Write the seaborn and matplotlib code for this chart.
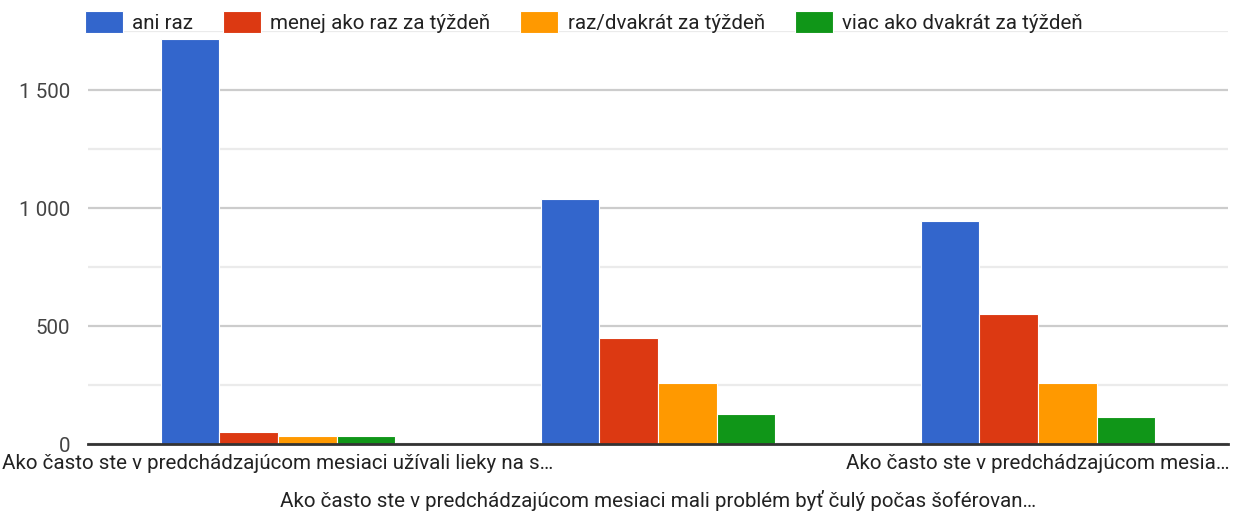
import matplotlib
matplotlib.use("Agg")
import matplotlib.pyplot as plt
from matplotlib.ticker import MultipleLocator, FuncFormatter, FixedLocator, FixedFormatter
from matplotlib.patches import Patch
import seaborn as sns
import pandas as pd

questions = [
    "Ako často ste v predchádzajúcom mesiaci užívali lieky na s…",
    "Ako často ste v predchádzajúcom mesiaci mali problém byť čulý počas šoférovan…",
    "Ako často ste v predchádzajúcom mesia…",
]
answers = ["ani raz", "menej ako raz za týždeň", "raz/dvakrát za týždeň", "viac ako dvakrát za týždeň"]
ani_raz = [1715, 1037, 946]
menej = [52, 449, 551]
raz_dvakrat = [34, 257, 257]
viac = [34, 126, 114]
colors = ["#3366cc", "#dc3912", "#ff9900", "#109618"]

rows = []
for series, name in zip([ani_raz, menej, raz_dvakrat, viac], answers):
    for q, v in zip(questions, series):
        rows.append({"question": q, "answer": name, "count": v})
df = pd.DataFrame(rows)

sns.set_theme(style="white")
plt.rcParams["font.family"] = ["Roboto", "DejaVu Sans"]
fs = 14.8

fig = plt.figure(figsize=(12.34, 5.2), dpi=100)
ax = fig.add_axes([88 / 1234, 76 / 520, (1228 - 88) / 1234, (444 - 31) / 520])

sns.barplot(data=df, x="question", y="count", hue="answer", order=questions,
            hue_order=answers, palette=colors, width=0.617, ax=ax,
            edgecolor="white", linewidth=0.8, saturation=1, legend=False, zorder=3)

ax.set_ylim(0, 1750)
ax.set_xlim(-0.5, 2.5)
ax.yaxis.set_major_locator(MultipleLocator(500))
ax.yaxis.set_minor_locator(MultipleLocator(250))
ax.yaxis.set_major_formatter(FuncFormatter(lambda v, p: f"{v:,.0f}".replace(",", " ")))
ax.grid(axis="y", which="major", color="#cccccc", linewidth=1.6, zorder=0)
ax.grid(axis="y", which="minor", color="#ebebeb", linewidth=1.6, zorder=0)
ax.set_axisbelow(True)
for s in ["top", "right", "left"]:
    ax.spines[s].set_visible(False)
ax.spines["bottom"].set_color("#333333")
ax.spines["bottom"].set_linewidth(2)
ax.spines["bottom"].set_zorder(5)
ax.tick_params(axis="both", which="both", length=0, labelsize=fs)
ax.tick_params(axis="y", pad=13, labelcolor="#444444")
ax.set_xlabel("")
ax.set_ylabel("")

# staggered category labels: first and third on row 1, second on row 2
ax.xaxis.set_major_locator(FixedLocator([0, 2]))
ax.xaxis.set_major_formatter(FixedFormatter([questions[0], questions[2]]))
ax.xaxis.set_minor_locator(FixedLocator([1]))
ax.xaxis.set_minor_formatter(FixedFormatter([questions[1]]))
ax.tick_params(axis="x", which="major", pad=7, labelcolor="#222222")
ax.tick_params(axis="x", which="minor", pad=33, labelcolor="#222222", labelsize=fs)

handles = [Patch(facecolor=c, edgecolor="white", linewidth=0.8) for c in colors]
fig.legend(handles, answers, loc="upper left", bbox_to_anchor=(85 / 1234, 1 - 11 / 520),
           ncol=4, frameon=False, fontsize=fs, handlelength=1.85, handleheight=1.3,
           handletextpad=0.45, columnspacing=1.45, borderpad=0, borderaxespad=0,
           labelcolor="#222222")

fig.savefig("out.png", dpi=100)
